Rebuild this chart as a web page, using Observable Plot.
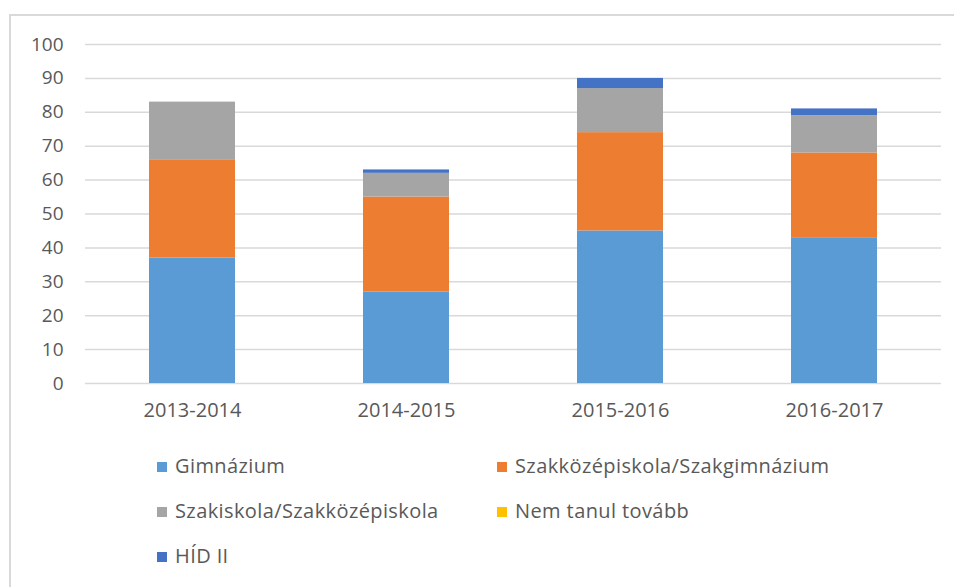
<!DOCTYPE html>
<html>
<head>
<meta charset="utf-8">
<script src="https://cdn.jsdelivr.net/npm/d3@7"></script>
<script src="https://cdn.jsdelivr.net/npm/@observablehq/plot@0.6"></script>
<style>
  body { margin: 0; background: #fff; }
  #wrap { position: relative; width: 954px; height: 587px; overflow: hidden; font-family: "Open Sans", sans-serif; }
  #frame { position: absolute; left: 9px; top: 14px; width: 960px; height: 600px; border-top: 2px solid #d9d9d9; border-left: 2px solid #d9d9d9; }
  #chart { position: absolute; left: 0; top: 0; }
  .leg { position: absolute; font-size: 20px; color: #595959; white-space: nowrap; line-height: 24px; letter-spacing: 0.4px; }
  .leg span.sw { display: inline-block; width: 10px; height: 10px; margin-right: 8px; vertical-align: 1px; }
</style>
</head>
<body>
<div id="wrap">
  <div id="frame"></div>
  <div id="chart"></div>
</div>
<script>
const years = ["2013-2014", "2014-2015", "2015-2016", "2016-2017"];
const seriesNames = ["Gimnázium", "Szakközépiskola/Szakgimnázium", "Szakiskola/Szakközépiskola", "Nem tanul tovább", "HÍD II"];
const seriesColors = ["#5B9BD5", "#ED7D31", "#A5A5A5", "#FFC000", "#4472C4"];
const gimnazium = [37, 27, 45, 43];
const szakkozep = [29, 28, 29, 25];
const szakiskola = [17, 7, 13, 11];
const nemTanul = [0, 0, 0, 0];
const hid = [0, 1, 3, 2];
const yTicks = [0, 10, 20, 30, 40, 50, 60, 70, 80, 90, 100];

const seriesValues = [gimnazium, szakkozep, szakiskola, nemTanul, hid];
const data = [];
seriesNames.forEach((s, i) => {
  years.forEach((y, j) => data.push({year: y, series: s, value: seriesValues[i][j]}));
});

const chart = Plot.plot({
  width: 954,
  height: 440,
  marginTop: 44,
  marginBottom: 57,
  marginLeft: 85,
  marginRight: 13,
  style: {fontFamily: "Open Sans, sans-serif", fontSize: "20px", color: "#595959", background: "transparent"},
  x: {domain: years, paddingInner: 0.6, paddingOuter: 0.3, label: null},
  y: {domain: [0, 100], label: null},
  color: {domain: seriesNames, range: seriesColors},
  marks: [
    Plot.gridY(yTicks, {stroke: "#d9d9d9", strokeOpacity: 1, strokeWidth: 1.5}),
    Plot.barY(data, {x: "year", y: "value", fill: "series", z: "series"}),
    Plot.axisY(yTicks, {tickSize: 0, tickPadding: 22, label: null, fill: "#595959", fontSize: 19}),
    Plot.axisX({tickSize: 0, tickPadding: 19, label: null, fill: "#595959", fontSize: 20})
  ]
});
document.getElementById("chart").appendChild(chart);

const legPos = [[157, 454], [497, 454], [157, 499], [497, 499], [157, 544]];
const wrap = document.getElementById("wrap");
seriesNames.forEach((s, i) => {
  const d = document.createElement("div");
  d.className = "leg";
  d.style.left = legPos[i][0] + "px";
  d.style.top = legPos[i][1] + "px";
  d.innerHTML = `<span class="sw" style="background:${seriesColors[i]}"></span>${s}`;
  wrap.appendChild(d);
});
</script>
</body>
</html>
